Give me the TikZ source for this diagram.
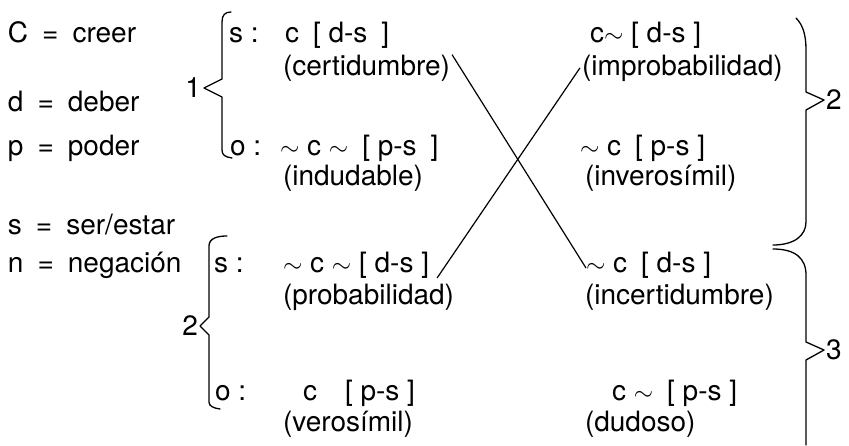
\documentclass[tikz,border=0pt]{standalone}
\usepackage{fontspec}
\setmainfont{TeX Gyre Heros}
\newcommand{\mytilde}{$\sim$}
\tikzset{
  txt/.style={inner sep=0pt, outer sep=0pt, anchor=base west, font=\fontsize{28}{30}\selectfont},
  bracepath/.style={line width=1.3pt, line cap=round, line join=round},
  cross/.style={line width=1.2pt},
}
\begin{document}
\begin{tikzpicture}[x=1pt,y=-1pt]
\fill[white] (0,0) rectangle (849,445);
\useasboundingbox (0,0) rectangle (849,445);
% legend
\node[txt] (lC) at (8,42) {C\enspace=\enspace creer};
\node[txt] (ld) at (8,111) {d\enspace=\enspace deber};
\node[txt] (lp) at (8,155) {p\enspace=\enspace poder};
\node[txt] (ls) at (8,234) {s\enspace=\enspace ser/estar};
\node[txt] (ln) at (8,272) {n\enspace=\enspace negación};
% group 1
\node[txt] (s1) at (229,42) {s :};
\node[txt] (a1) at (285,42) {c\enspace[ d-s\enspace]};
\node[txt] (cert) at (283,75) {(certidumbre)};
\node[txt] (o1) at (230,155) {o :};
\node[txt] (b1) at (280,155) {\mytilde\ c \mytilde\enspace[ p-s\enspace]};
\node[txt] (indu) at (283,185) {(indudable)};
% right top
\node[txt] (a2) at (590,42) {c\mytilde\ [ d-s ]};
\node[txt] (improb) at (582,75) {(improbabilidad)};
\node[txt] (b2) at (580,155) {\mytilde\ c\enspace[ p-s ]};
\node[txt] (inve) at (585,185) {(inverosímil)};
% group 2
\node[txt] (s2) at (214,272) {s :};
\node[txt] (probd) at (283,272) {\mytilde\ c \mytilde\ [ d-s ]};
\node[txt] (prob) at (283,304) {(probabilidad)};
\node[txt] (o2) at (215,400) {o :};
\node[txt] (c2) at (303,400) {c\quad[ p-s ]};
\node[txt] (vero) at (283,431) {(verosímil)};
% right bottom
\node[txt] (incd) at (586,272) {\mytilde\ c\enspace[ d-s ]};
\node[txt] (incert) at (585,304) {(incertidumbre)};
\node[txt] (d2) at (612,400) {c \mytilde\enspace[ p-s ]};
\node[txt] (dudo) at (585,431) {(dudoso)};
% brace labels
\node[txt, anchor=east] (n1) at (201,88) {1};
\node[txt, anchor=east] (n2) at (198,326) {2};
\node[txt, anchor=west] (n2r) at (826,100) {2};
\node[txt, anchor=west] (n3r) at (826,350) {3};
% braces
\draw[bracepath] (231,12) .. controls (225,12) and (222,15) .. (222,22) -- (222,79) -- (204,88) -- (222,97) -- (222,150) .. controls (222,155) and (225,157) .. (232,158);
\draw[bracepath] (227,236) .. controls (218,236) and (209,238) .. (209,246) -- (209,317) -- (200,326) -- (209,335) -- (209,402) .. controls (209,406) and (213,408) .. (220,409);
\draw[bracepath] (796,18) .. controls (803,25) and (806,35) .. (806,50) -- (806,92) -- (824,100) -- (806,110) -- (806,222) .. controls (806,235) and (795,245) .. (773,245);
\draw[bracepath] (773,249) .. controls (795,249) and (806,258) .. (806,275) -- (806,342) -- (824,350) -- (806,360) -- (806,445);
% crossing lines
\draw[cross] ([xshift=2pt]cert.north east) -- ([yshift=4pt]incd.base west);
\draw[cross] ([shift={(8pt,-6pt)}]probd.base east) -- ([xshift=-2pt]improb.west);
\end{tikzpicture}
\end{document}
